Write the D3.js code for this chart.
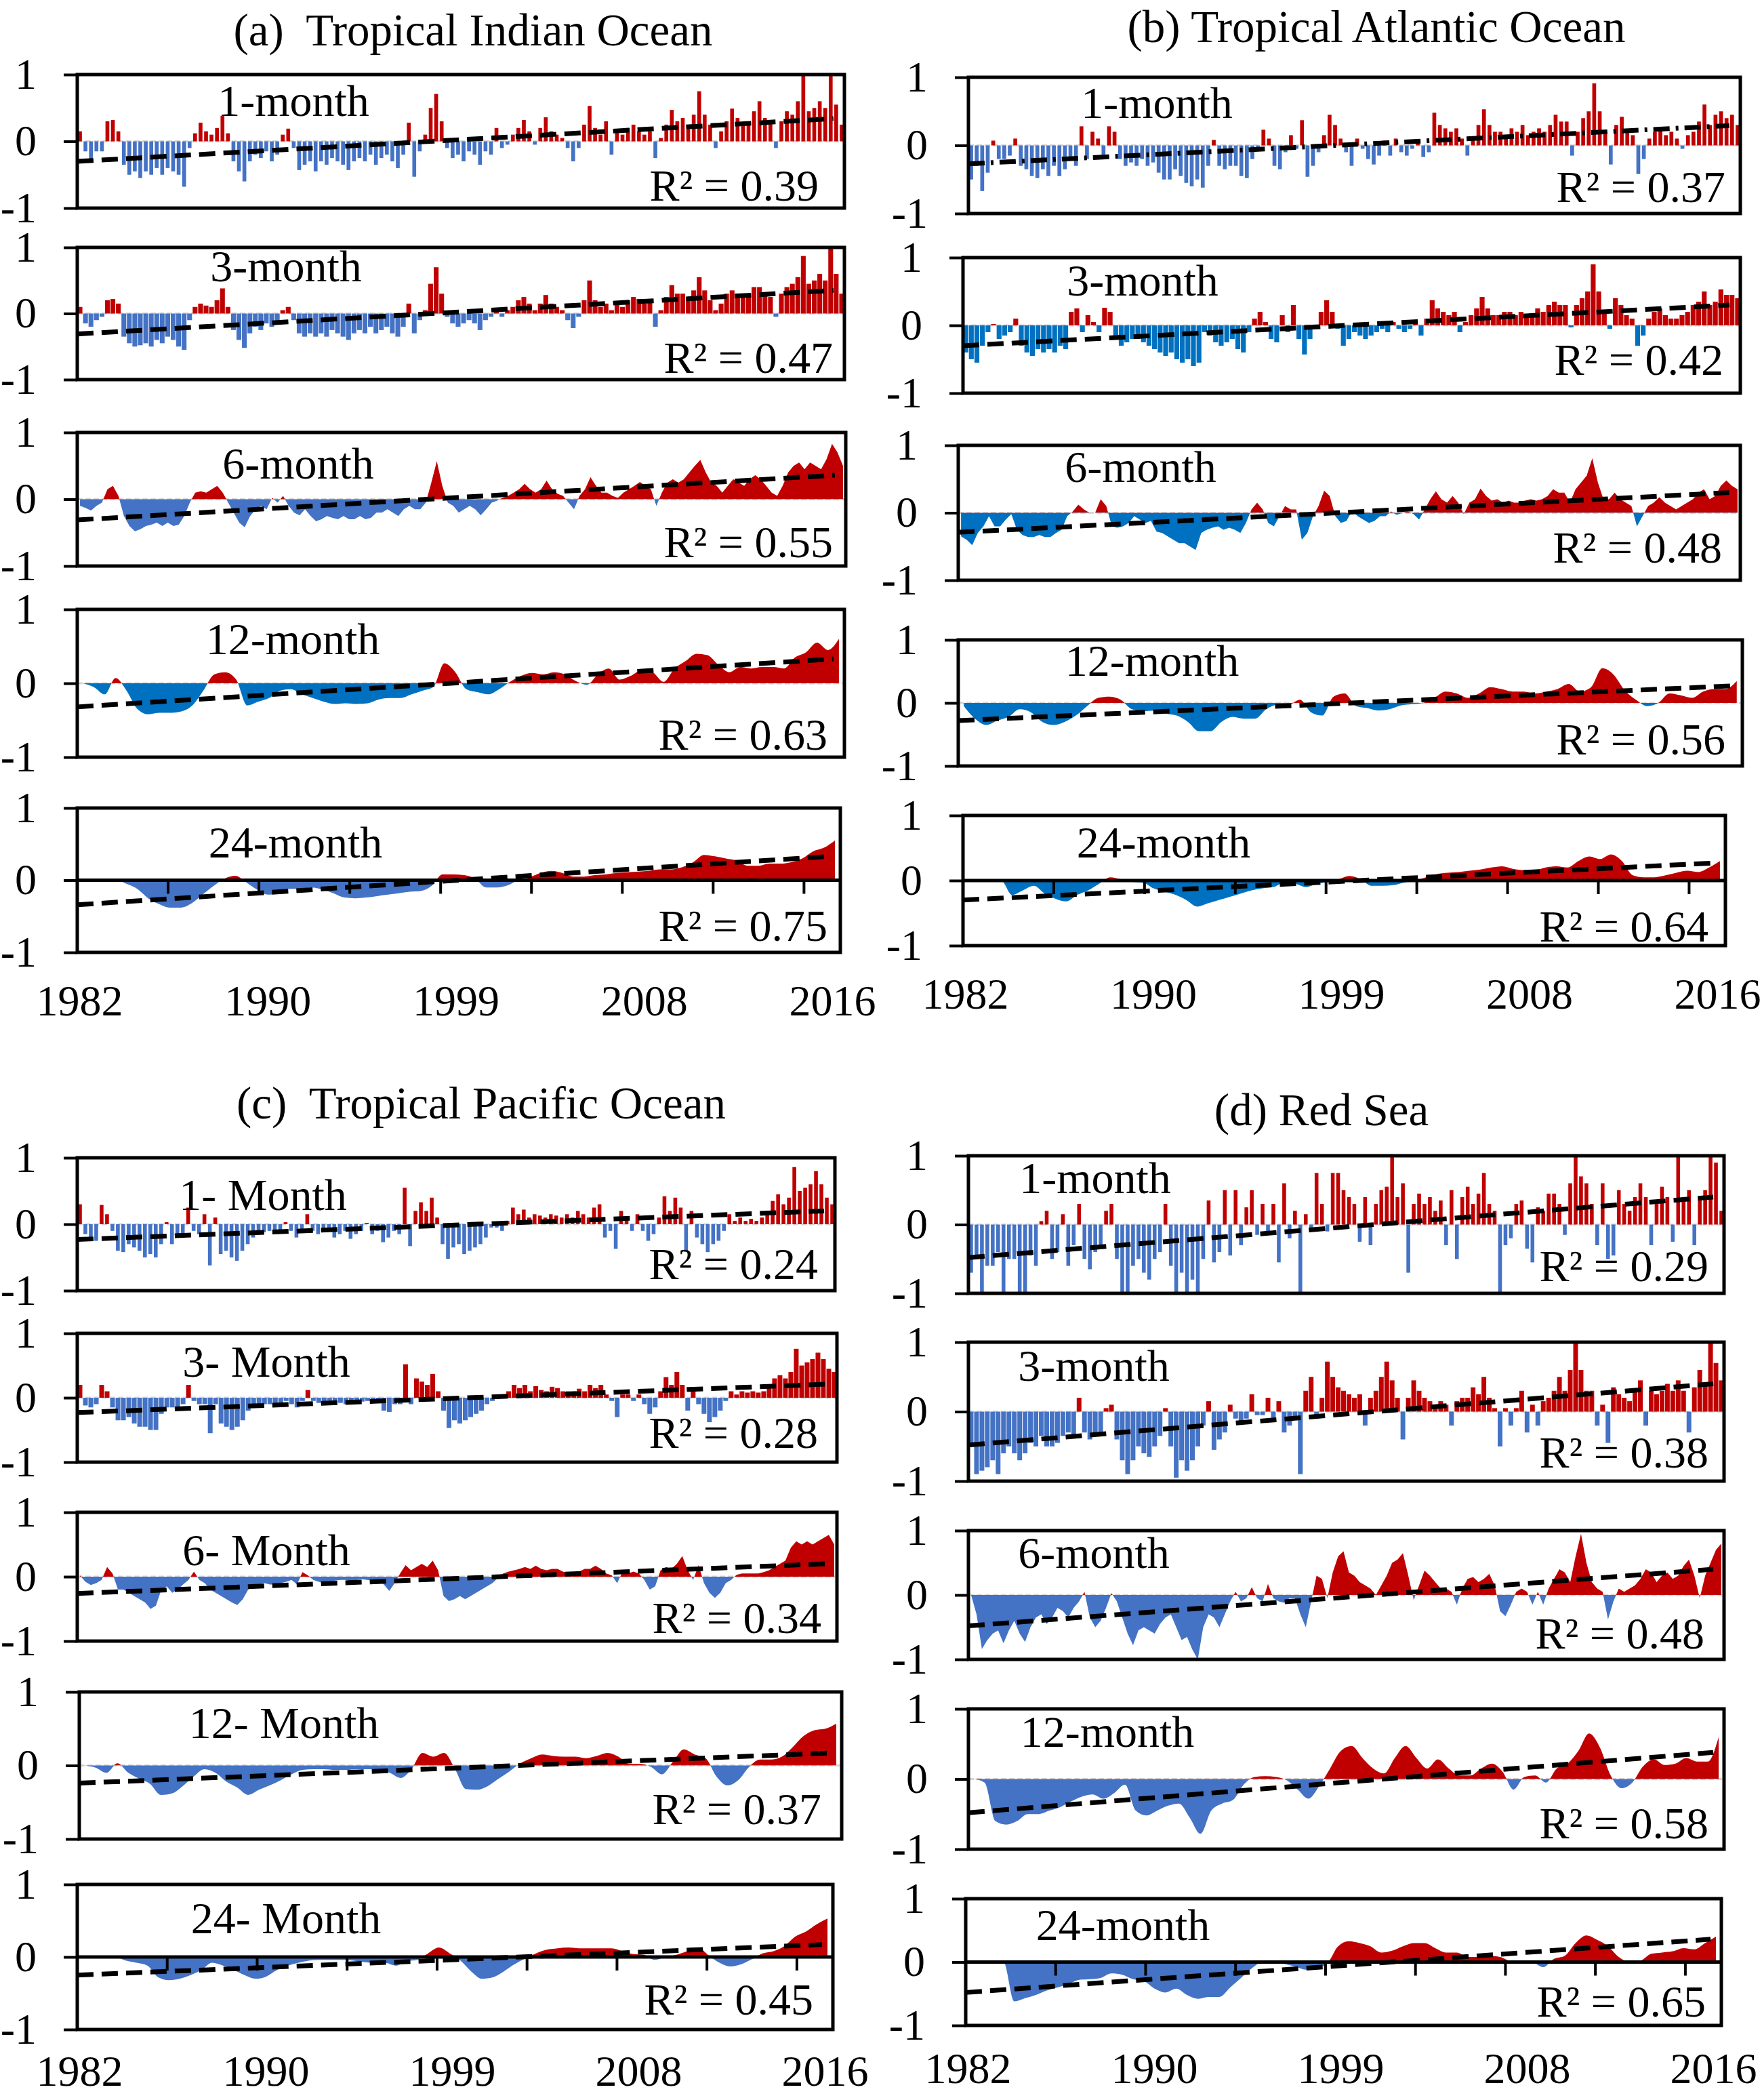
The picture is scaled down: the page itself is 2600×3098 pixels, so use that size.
<!DOCTYPE html>
<html>
<head>
<meta charset="utf-8">
<script src="https://cdn.jsdelivr.net/npm/d3@7"></script>
<style>
  body { margin: 0; background: #fff; }
  svg text { font-family: "Liberation Serif", "Times New Roman", serif; fill: #000; }
</style>
</head>
<body>
<svg id="chart" width="2600" height="3098"></svg>
<script>
// time span of every panel, and the labels under the bottom panels
var startYear = 1982, endYear = 2017, trendEnd = 2016.5;
var tickYears = [1982, 1990, 1999, 2008, 2016];
var scaleNames = ["1-month", "3-month", "6-month", "12-month", "24-month"];
var pacificNames = ["1- Month", "3- Month", "6- Month", "12- Month", "24- Month"];

// ---- (a) Tropical Indian Ocean ----
var indian1 = [
  0.15,-0.15,-0.3,-0.15, -0.15,0.3,0.32,0.15, -0.35,-0.5,-0.45,-0.55, -0.45,-0.5,-0.4,-0.5,
  -0.4,-0.45,-0.5,-0.68, -0.1,0.12,0.28,0.15, 0.1,0.2,0.38,0.12, -0.3,-0.45,-0.6,-0.3,
  -0.2,-0.25,-0.15,-0.3, -0.2,0.1,0.19,-0.1, -0.43,-0.35,-0.3,-0.45, -0.3,-0.35,-0.25,-0.3,
  -0.35,-0.43,-0.3,-0.25, -0.3,-0.2,-0.35,-0.25, -0.2,-0.3,-0.4,-0.2, 0.28,-0.53,-0.15,0.1,
  0.5,0.71,0.3,-0.1, -0.25,-0.2,-0.3,-0.15, -0.2,-0.35,-0.15,-0.2, 0.2,-0.1,-0.05,0.1,
  0.2,0.32,0.15,-0.05, 0.2,0.36,0.15,0.1, 0.05,-0.1,-0.3,-0.1, 0.25,0.53,0.2,0.1,
  0.3,-0.2,0.15,0.1, 0.2,0.25,0.15,0.1, 0.15,-0.25,0.05,0.25, 0.47,0.3,0.35,0.25,
  0.4,0.75,0.4,0.25, -0.1,0.15,0.3,0.49, 0.35,0.25,0.3,0.45, 0.6,0.35,0.3,-0.1,
  0.3,0.45,0.4,0.6, 0.98,0.45,0.5,0.6, 0.5,1.0,0.55,0.25
];
var indian3 = [
  0.1,-0.15,-0.2,-0.1, -0.05,0.2,0.22,0.15, -0.35,-0.45,-0.5,-0.48, -0.45,-0.5,-0.4,-0.45,
  -0.35,-0.4,-0.5,-0.55, -0.1,0.1,0.15,0.12, 0.1,0.2,0.38,0.1, -0.25,-0.4,-0.52,-0.3,
  -0.2,-0.25,-0.15,-0.2, -0.15,0.05,0.1,-0.1, -0.3,-0.35,-0.3,-0.35, -0.3,-0.35,-0.25,-0.3,
  -0.35,-0.4,-0.3,-0.25, -0.3,-0.2,-0.3,-0.25, -0.2,-0.3,-0.35,-0.2, 0.15,-0.3,-0.1,0.05,
  0.45,0.7,0.3,-0.05, -0.15,-0.2,-0.15,-0.1, -0.15,-0.25,-0.1,-0.05, 0.05,-0.05,0.05,0.1,
  0.2,0.25,0.15,0.05, 0.15,0.28,0.15,0.1, 0.05,-0.1,-0.22,-0.05, 0.2,0.5,0.2,0.1,
  0.15,0.05,0.15,0.1, 0.2,0.25,0.22,0.15, 0.2,-0.2,0.05,0.25, 0.43,0.3,0.3,0.25,
  0.35,0.55,0.35,0.2, 0.05,0.15,0.3,0.35, 0.3,0.25,0.3,0.4, 0.4,0.3,0.25,-0.05,
  0.3,0.4,0.45,0.55, 0.87,0.45,0.5,0.6, 0.5,1.0,0.6,0.3
];
var indian6 = [
  -0.1,-0.13,-0.17,-0.1, -0.05,0.15,0.2,0.05, -0.25,-0.4,-0.48,-0.45, -0.4,-0.38,-0.35,-0.4,
  -0.35,-0.4,-0.38,-0.25, -0.05,0.1,0.12,0.1, 0.15,0.2,0.1,-0.05, -0.2,-0.35,-0.42,-0.25,
  -0.15,-0.1,-0.15,0.02, -0.05,0.05,-0.1,-0.2, -0.24,-0.15,-0.25,-0.33, -0.3,-0.25,-0.28,-0.3,
  -0.25,-0.3,-0.3,-0.25, -0.3,-0.28,-0.2,-0.2, -0.15,-0.2,-0.25,-0.15, -0.1,-0.15,-0.15,-0.05,
  0.25,0.57,0.2,-0.05, -0.1,-0.2,-0.15,-0.1, -0.15,-0.24,-0.15,-0.05, -0.02,0.02,0.05,0.1,
  0.15,0.23,0.15,0.1, 0.15,0.28,0.15,0.08, 0.05,-0.05,-0.15,0.05, 0.15,0.33,0.2,0.1,
  0.1,0.05,0.02,0.1, 0.15,0.2,0.26,0.2, 0.15,-0.1,0.1,0.25, 0.3,0.25,0.3,0.4,
  0.5,0.59,0.4,0.25, 0.2,0.1,0.2,0.3, 0.25,0.2,0.3,0.36, 0.3,0.2,0.1,0.05,
  0.2,0.4,0.5,0.55, 0.45,0.55,0.5,0.45, 0.6,0.83,0.7,0.5
];
var indian12 = [
  0,-0.05,-0.15,0.07,-0.1,-0.35,-0.42,-0.4,-0.4,-0.38,
  -0.3,-0.1,0.12,0.15,0.05,-0.3,-0.25,-0.2,-0.1,-0.08,
  -0.15,-0.2,-0.25,-0.28,-0.27,-0.28,-0.27,-0.22,-0.2,-0.2,
  -0.15,-0.1,-0.05,0.27,0.15,-0.08,-0.12,-0.15,-0.08,0.02,
  0.1,0.14,0.12,0.15,0.12,0.03,-0.02,0.12,0.2,0.05,
  0.1,0.18,0.15,0.02,0.2,0.3,0.4,0.38,0.25,0.15,
  0.22,0.2,0.22,0.22,0.2,0.35,0.42,0.55,0.45,0.6
];
var indian24 = [
  0,0,0,0,-0.05,-0.12,-0.25,-0.33,-0.38,-0.38,
  -0.32,-0.2,-0.08,0.02,0.06,-0.03,-0.13,-0.2,-0.18,-0.12,
  -0.12,-0.1,-0.13,-0.18,-0.24,-0.25,-0.24,-0.22,-0.2,-0.18,
  -0.16,-0.15,-0.08,0.08,0.08,0.07,0.02,-0.1,-0.1,-0.07,
  0,0.04,0.1,0.13,0.1,0.05,0.05,0.07,0.08,0.1,
  0.11,0.12,0.13,0.15,0.15,0.18,0.25,0.35,0.33,0.3,
  0.27,0.2,0.2,0.23,0.23,0.25,0.3,0.4,0.45,0.55
];
var indianTrend = [[-0.30, 0.34], [-0.31, 0.35], [-0.31, 0.36], [-0.32, 0.33], [-0.34, 0.33]];
var indianR2 = [0.39, 0.47, 0.55, 0.63, 0.75];

// ---- (b) Tropical Atlantic Ocean ----
var atlantic1 = [
  -0.5,-0.3,-0.67,-0.4, 0.07,-0.2,-0.2,-0.15, 0.1,-0.3,-0.35,-0.45, -0.48,-0.35,-0.45,-0.3,
  -0.45,-0.35,-0.2,-0.3, 0.28,-0.2,0.2,0.1, -0.15,0.28,0.2,-0.2, -0.3,-0.25,-0.3,-0.2,
  -0.3,-0.25,-0.4,-0.5, -0.5,-0.35,-0.45,-0.55, -0.6,-0.5,-0.62,-0.3, 0.08,-0.3,-0.35,-0.3,
  -0.3,-0.45,-0.48,-0.2, -0.05,0.23,0.1,-0.3, -0.35,-0.1,0.15,-0.05, 0.37,-0.46,-0.3,-0.1,
  0.15,0.45,0.3,0.1, -0.1,-0.3,0.1,-0.05, -0.2,-0.28,-0.15,0.07, -0.15,0.1,-0.1,-0.15,
  -0.05,0.05,-0.17,-0.1, 0.48,0.3,0.25,0.2, 0.25,0.1,-0.15,0.1, 0.3,0.53,0.3,0.2,
  0.2,0.15,0.25,0.2, 0.3,0.15,0.2,0.25, 0.2,0.3,0.45,0.35, 0.35,-0.15,0.2,0.4,
  0.5,0.91,0.5,0.2, -0.28,0.3,0.42,0.2, 0.15,-0.42,-0.2,0.1, 0.2,0.25,0.15,0.2,
  0.1,-0.05,0.15,0.2, 0.35,0.6,0.3,0.45, 0.5,0.4,0.45,0.3
];
var atlantic3 = [
  -0.4,-0.5,-0.55,-0.3, -0.1,0.02,-0.2,-0.15, -0.1,0.1,-0.3,-0.4, -0.45,-0.35,-0.4,-0.35,
  -0.4,-0.3,-0.35,0.2, 0.25,-0.1,0.15,0.05, -0.1,0.26,0.2,-0.2, -0.3,-0.25,-0.2,-0.2,
  -0.25,-0.3,-0.35,-0.4, -0.45,-0.4,-0.5,-0.55, -0.5,-0.6,-0.55,-0.1, -0.15,-0.25,-0.3,-0.25,
  -0.2,-0.35,-0.4,-0.1, 0.1,0.2,0.05,-0.2, -0.25,0.15,-0.1,0.3, -0.2,-0.43,-0.2,-0.05,
  0.2,0.37,0.2,-0.05, -0.3,-0.2,-0.1,-0.15, -0.2,-0.15,-0.1,-0.05, -0.1,0.05,-0.05,-0.1,
  -0.05,0.02,-0.15,0.1, 0.37,0.25,0.2,0.15, 0.2,-0.1,0.05,0.15, 0.25,0.42,0.25,0.15,
  0.15,0.2,0.2,0.15, 0.2,0.15,0.15,0.25, 0.2,0.3,0.35,0.3, 0.3,-0.03,0.3,0.4,
  0.5,0.9,0.5,0.2, -0.05,0.4,0.3,0.15, 0.1,-0.3,-0.15,0.1, 0.2,0.25,0.15,0.1,
  0.1,0.15,0.2,0.3, 0.35,0.5,0.3,0.35, 0.53,0.45,0.45,0.4
];
var atlantic6 = [
  -0.35,-0.4,-0.48,-0.3, -0.2,-0.05,-0.2,-0.2, -0.1,-0.02,-0.25,-0.33, -0.36,-0.36,-0.33,-0.36,
  -0.36,-0.3,-0.25,-0.05, 0.02,0.12,0.05,0, 0,0.2,0.1,-0.2, -0.22,-0.2,-0.15,-0.05,
  -0.1,-0.15,-0.12,-0.28, -0.3,-0.35,-0.4,-0.45, -0.45,-0.5,-0.55,-0.3, -0.25,-0.22,-0.2,-0.25,
  -0.22,-0.25,-0.3,-0.15, 0.05,0.15,0.05,-0.15, -0.2,-0.05,0.1,0.05, 0.05,-0.4,-0.3,-0.05,
  0.1,0.33,0.25,-0.05, -0.15,-0.12,0.03,-0.05, -0.1,-0.15,-0.12,-0.05, -0.05,0.02,-0.03,0,
  0.02,-0.02,-0.1,0.05, 0.2,0.32,0.2,0.15, 0.25,0.15,-0.02,0.15, 0.2,0.36,0.25,0.18,
  0.2,0.15,0.18,0.15, 0.15,0.18,0.2,0.18, 0.2,0.25,0.35,0.3, 0.3,0.15,0.35,0.45,
  0.55,0.81,0.45,0.2, 0.2,0.3,0.2,0.15, 0.1,-0.2,-0.05,0.1, 0.15,0.23,0.15,0.1,
  0.05,0.1,0.15,0.2, 0.3,0.35,0.2,0.25, 0.4,0.48,0.4,0.35
];
var atlantic12 = [
  -0.05,-0.25,-0.35,-0.28,-0.22,-0.1,-0.15,-0.3,-0.35,-0.3,
  -0.2,-0.05,0.08,0.1,0.05,-0.1,-0.13,-0.12,-0.17,-0.2,
  -0.3,-0.45,-0.45,-0.3,-0.22,-0.25,-0.25,-0.1,-0.03,-0.03,
  0.05,-0.15,-0.2,0.1,0.15,-0.05,-0.08,-0.12,-0.1,-0.04,
  -0.02,0,0.08,0.18,0.15,0.08,0.15,0.25,0.22,0.18,
  0.18,0.15,0.18,0.22,0.3,0.18,0.25,0.55,0.45,0.2,
  0.05,-0.05,0,0.15,0.12,0.08,0.18,0.22,0.22,0.35
];
var atlantic24 = [
  0,0,0,0,-0.22,-0.15,-0.08,-0.2,-0.28,-0.32,
  -0.22,-0.15,-0.05,0.05,0.02,-0.02,-0.03,-0.12,-0.17,-0.22,
  -0.3,-0.4,-0.35,-0.3,-0.25,-0.2,-0.15,-0.12,-0.1,-0.03,
  -0.05,-0.1,-0.05,-0.02,0.02,0.07,0.02,-0.08,-0.08,-0.07,
  -0.03,0,0.05,0.1,0.12,0.13,0.15,0.17,0.2,0.22,
  0.18,0.16,0.16,0.2,0.22,0.2,0.3,0.37,0.33,0.4,
  0.3,0.08,0.05,0.05,0.08,0.12,0.15,0.13,0.2,0.3
];
var atlanticTrend = [[-0.27, 0.29], [-0.30, 0.30], [-0.29, 0.30], [-0.28, 0.27], [-0.30, 0.27]];
var atlanticR2 = [0.37, 0.42, 0.48, 0.56, 0.64];

// ---- (c) Tropical Pacific Ocean ----
var pacific1 = [
  0.3,-0.15,-0.2,-0.25, 0.29,0.15,-0.1,-0.4, -0.42,-0.3,-0.35,-0.4, -0.5,-0.45,-0.5,-0.3,
  0.03,-0.3,-0.2,-0.15, 0.25,-0.1,-0.15,0.15, -0.62,0.1,-0.45,-0.4, -0.5,-0.55,-0.4,-0.3,
  -0.2,-0.15,-0.12,-0.1, -0.1,-0.1,0.03,-0.1, -0.2,-0.1,0.15,-0.1, -0.15,-0.1,-0.05,-0.2,
  -0.15,-0.1,-0.22,-0.15, -0.1,0.02,-0.15,-0.1, -0.27,-0.2,-0.1,-0.15, 0.55,-0.33,0.2,0.33,
  0.2,0.4,0.1,-0.3, -0.52,-0.35,-0.3,-0.45, -0.4,-0.35,-0.3,-0.2, -0.05,-0.05,-0.1,0.05,
  0.25,0.15,0.22,0.1, 0.15,0.13,0.1,0.15, 0.13,0.1,0.15,0.1, 0.2,0.15,0.1,0.25,
  0.3,-0.2,-0.1,-0.37, 0.2,0.1,-0.1,0.15, -0.1,-0.25,-0.15,0.1, 0.42,0.2,0.4,0.25,
  -0.42,0.2,-0.2,-0.3, -0.42,-0.3,-0.25,-0.1, 0.15,0.05,0.1,0.05, 0.08,0.05,0.1,0.15,
  0.35,0.45,0.3,0.4, 0.86,0.5,0.55,0.6, 0.8,0.6,0.4,0.3
];
var pacific3 = [
  0.2,-0.12,-0.15,-0.1, 0.2,0.1,-0.15,-0.35, -0.35,-0.3,-0.4,-0.45, -0.45,-0.5,-0.5,-0.25,
  -0.15,-0.15,-0.15,-0.1, 0.2,-0.05,-0.1,-0.1, -0.55,-0.1,-0.4,-0.45, -0.5,-0.45,-0.35,-0.2,
  -0.15,-0.12,-0.1,-0.1, -0.1,-0.1,-0.05,-0.1, -0.15,-0.05,0.12,-0.05, -0.08,-0.1,-0.05,-0.08,
  -0.08,-0.1,-0.1,-0.08, -0.06,-0.05,-0.08,-0.05, -0.2,-0.22,-0.1,-0.1, 0.52,-0.1,0.3,0.25,
  0.2,0.37,0.1,-0.2, -0.47,-0.35,-0.4,-0.35, -0.3,-0.25,-0.2,-0.1, -0.05,-0.02,0.05,0.1,
  0.2,0.15,0.2,0.1, 0.18,0.12,0.1,0.17, 0.15,0.1,0.1,0.1, 0.14,0.1,0.2,0.15,
  0.2,0.05,-0.05,-0.3, 0.05,0.05,-0.05,0.05, -0.1,-0.25,-0.15,0.1, 0.32,0.2,0.4,0.2,
  -0.2,0.15,-0.1,-0.25, -0.38,-0.3,-0.2,-0.05, 0.1,0.05,0.1,0.08, 0.1,0.08,0.1,0.15,
  0.3,0.35,0.3,0.4, 0.76,0.5,0.55,0.6, 0.7,0.6,0.45,0.4
];
var pacific6 = [
  0.02,-0.08,-0.13,-0.1, -0.05,0.15,0.05,-0.2, -0.2,-0.25,-0.3,-0.35, -0.4,-0.5,-0.45,-0.2,
  -0.15,-0.25,-0.2,-0.12, -0.05,0.08,-0.05,-0.1, -0.2,-0.25,-0.3,-0.35, -0.4,-0.44,-0.35,-0.2,
  -0.15,-0.12,-0.1,-0.12, -0.12,-0.1,-0.08,-0.05, -0.12,0.07,0.02,-0.05, -0.08,-0.1,-0.08,-0.06,
  -0.05,-0.05,-0.08,-0.05, -0.04,-0.05,-0.06,-0.05, -0.12,-0.22,-0.1,0.05, 0.18,0.1,0.15,0.2,
  0.15,0.25,0.1,-0.3, -0.38,-0.35,-0.3,-0.35, -0.3,-0.25,-0.2,-0.15, -0.1,-0.02,0.05,0.08,
  0.1,0.12,0.15,0.12, 0.17,0.12,0.1,0.12, 0.12,0.08,0.05,0.05, 0.08,0.12,0.12,0.17,
  0.12,0.05,0.02,-0.1, 0.08,0.05,0.08,0.05, -0.05,-0.2,-0.15,0.1, 0.15,0.12,0.2,0.32,
  0.1,-0.05,0.18,-0.1, -0.25,-0.33,-0.25,-0.1, -0.05,0.03,0.05,0.05, 0.05,0.05,0.07,0.1,
  0.15,0.2,0.25,0.45, 0.55,0.5,0.55,0.5, 0.55,0.6,0.65,0.5
];
var pacific12 = [
  0,-0.03,-0.1,0.03,-0.1,-0.18,-0.25,-0.4,-0.38,-0.28,
  -0.15,-0.05,-0.1,-0.22,-0.3,-0.4,-0.33,-0.27,-0.2,-0.12,
  -0.06,-0.05,-0.05,-0.06,-0.06,-0.05,-0.05,-0.05,-0.1,-0.17,
  -0.05,0.17,0.12,0.17,-0.05,-0.32,-0.33,-0.28,-0.18,-0.08,
  0.03,0.1,0.15,0.13,0.12,0.12,0.1,0.13,0.17,0.12,
  0.02,0.02,-0.02,-0.12,0.05,0.22,0.15,0.1,-0.15,-0.27,
  -0.2,-0.02,0.08,0.08,0.12,0.25,0.4,0.48,0.5,0.57
];
var pacific24 = [
  0,0,0,0,-0.05,-0.08,-0.12,-0.28,-0.32,-0.3,
  -0.25,-0.18,-0.08,-0.12,-0.18,-0.25,-0.3,-0.27,-0.18,-0.12,
  -0.08,-0.05,-0.04,-0.04,-0.04,-0.05,-0.07,-0.08,-0.08,-0.12,
  -0.06,-0.04,0.05,0.13,0.05,-0.05,-0.2,-0.3,-0.28,-0.2,
  -0.1,-0.02,0.05,0.1,0.12,0.13,0.12,0.12,0.12,0.12,
  0.08,0.04,0.03,-0.04,0,0.03,0.08,0.13,0.02,-0.08,
  -0.13,-0.1,-0.03,0.05,0.08,0.15,0.28,0.35,0.45,0.53
];
var pacificTrend = [[-0.23, 0.20], [-0.23, 0.21], [-0.26, 0.20], [-0.24, 0.17], [-0.25, 0.17]];
var pacificR2 = [0.24, 0.28, 0.34, 0.37, 0.45];

// ---- (d) Red Sea ----
var redsea1 = [
  -0.7,-0.5,-1.0,-0.6, -0.6,-0.4,-1.0,-0.5, -0.5,-1.0,-1.0,-0.45, -0.6,0.05,0.2,-0.5,
  -0.4,0.15,-0.6,-0.3, 0.3,-0.5,-0.65,-0.4, -0.3,0.2,0.3,-0.5, -1.0,-1.0,-0.6,-0.5,
  -0.7,-0.8,-0.5,-0.4, 0.3,-0.6,-1.0,-0.7, -1.0,-0.8,-1.0,-0.5, 0.35,-0.55,-0.4,0.5,
  -0.45,0.5,-0.3,0.25, 0.5,-0.15,0.3,-0.1, 0.3,-0.55,0.6,-0.2, 0.2,-1.0,0.15,-0.1,
  0.75,0.3,-0.1,0.75, 0.75,0.5,0.4,0.3, -0.25,0.4,-0.3,0.3, 0.5,0.55,1.0,0.4,
  0.6,-0.7,0.3,0.45, 0.3,0.4,0.2,0.35, -0.3,0.5,-0.5,0.4, 0.55,0.3,0.45,0.75,
  0.3,0.2,-1.0,-0.3, -0.2,0.3,0.35,-0.35, -0.55,0.25,0.2,0.45, 0.45,0.3,-0.15,0.6,
  1.0,0.7,0.6,0.3, -0.3,0.6,-0.5,-0.45, 0.5,0.3,0.2,0.4, 0.6,0.4,-0.3,0.3,
  0.55,0.4,-0.25,1.0, 0.4,0.5,-0.3,0.4, 0.5,1.0,0.9,0.2
];
var redsea3 = [
  -0.5,-0.9,-0.85,-0.8, -0.7,-0.9,-0.6,-0.5, -0.6,-0.7,-0.6,-0.45, -0.5,-0.35,-0.5,-0.5,
  -0.45,-0.35,-0.3,-0.35, 0.2,-0.3,-0.4,-0.35, -0.3,0.05,0.1,-0.4, -0.7,-0.9,-0.7,-0.5,
  -0.6,-0.65,-0.5,-0.35, 0.05,-0.5,-0.95,-0.7, -0.85,-0.7,-0.5,-0.2, 0.15,-0.55,-0.4,-0.3,
  0.1,-0.1,-0.15,-0.1, 0.25,-0.05,-0.05,0.2, -0.1,0.15,-0.3,-0.2, -0.1,-0.9,0.3,0.5,
  -0.1,0.2,0.72,0.5, 0.35,0.3,0.25,0.2, 0.25,-0.2,0.2,0.3, 0.5,0.72,0.45,0.2,
  -0.4,0.2,0.45,0.3, 0.2,0.15,0.1,0.15, 0.1,-0.2,0.15,0.2, 0.2,0.35,0.25,0.5,
  0.2,0.05,-0.5,0.05, -0.2,0.05,0.3,-0.3, 0.1,-0.2,0.15,0.2, 0.3,0.5,0.3,0.6,
  1.0,0.6,0.3,0.3, -0.2,0.1,-0.45,0.35, 0.25,0.2,0.15,0.3, 0.45,-0.2,0.3,0.25,
  0.3,0.4,0.3,0.45, 0.3,-0.3,0.35,0.6, 0.4,1.0,0.7,0.45
];
var redsea6 = [
  0,-0.3,-0.84,-0.7, -0.6,-0.55,-0.75,-0.55, -0.4,-0.6,-0.73,-0.5, -0.35,-0.3,-0.45,-0.35,
  -0.2,-0.25,-0.35,-0.2, -0.1,0.05,-0.35,-0.5, -0.4,-0.2,0.03,-0.1, -0.35,-0.6,-0.78,-0.55,
  -0.5,-0.55,-0.6,-0.45, -0.35,-0.3,-0.5,-0.7, -0.65,-0.85,-1.0,-0.5, -0.3,-0.35,-0.5,-0.3,
  -0.1,0.05,-0.1,-0.05, 0.12,-0.05,-0.1,0.17, -0.05,-0.1,-0.12,-0.05, -0.05,-0.3,-0.5,-0.1,
  0.3,0.25,-0.05,0.35, 0.6,0.68,0.35,0.3, 0.2,0.15,0.1,0, 0.15,0.3,0.5,0.55,
  0.65,0.3,-0.08,0.15, 0.38,0.3,0.2,0.1, 0.1,0.05,-0.15,0.1, 0.25,0.28,0.2,0.25,
  0.33,0.15,-0.25,-0.33, -0.15,0.05,0.1,0.05, -0.15,0.05,-0.15,0.1, 0.25,0.4,0.35,0.2,
  0.6,0.95,0.5,0.2, 0.1,0.05,-0.38,-0.1, 0.1,0.05,0.1,0.15, 0.25,0.4,0.35,0.2,
  0.3,0.35,0.25,0.3, 0.45,0.55,0.3,-0.05, 0.3,0.5,0.7,0.8
];
var redsea12 = [
  0,-0.05,-0.6,-0.65,-0.6,-0.5,-0.5,-0.45,-0.4,-0.32,
  -0.25,-0.22,-0.28,-0.2,-0.08,-0.45,-0.52,-0.45,-0.38,-0.35,
  -0.55,-0.78,-0.45,-0.35,-0.3,-0.08,0.03,0.04,0.03,-0.02,
  -0.15,-0.28,-0.1,0.15,0.4,0.47,0.3,0.15,0.08,0.3,
  0.47,0.3,0.15,0.28,0.15,0.05,0.05,0.15,0.22,0.1,
  -0.15,0.03,0.05,-0.05,0.15,0.22,0.4,0.65,0.45,0.05,
  -0.13,-0.05,0.18,0.28,0.2,0.22,0.3,0.25,0.25,0.6
];
var redsea24 = [
  0,0,0,0,-0.62,-0.57,-0.52,-0.45,-0.4,-0.35,
  -0.28,-0.27,-0.25,-0.18,-0.2,-0.27,-0.3,-0.42,-0.48,-0.42,
  -0.52,-0.58,-0.55,-0.55,-0.4,-0.25,-0.1,0,0,-0.03,
  -0.07,-0.12,-0.1,-0.02,0.25,0.33,0.3,0.25,0.15,0.18,
  0.25,0.3,0.3,0.22,0.15,0.15,0.08,0.08,0.1,0.08,
  0.02,0.02,0,-0.08,0.05,0.1,0.3,0.42,0.35,0.25,
  0.08,0,0.02,0.13,0.15,0.17,0.22,0.2,0.3,0.4
];
var redseaTrend = [[-0.48, 0.40], [-0.48, 0.40], [-0.48, 0.40], [-0.48, 0.38], [-0.48, 0.36]];
var redseaR2 = [0.29, 0.38, 0.48, 0.58, 0.65];

( function () {

    window.addEventListener('load', init);

    var red = '#C00000', blueA = '#4472C4', blueB = '#0070C0';
    var serif = '"Liberation Serif", "Times New Roman", serif';

    // page layout: frames are [left, right, top, bottom]
    var oceans = [
        { title: '(a)  Tropical Indian Ocean', tx: 698, ty: 67, yearPad: 48,
          series: [indian1, indian3, indian6, indian12, indian24],
          trend: indianTrend, r2: indianR2, names: scaleNames,
          blues: [blueA, blueA, blueA, blueB, blueA],
          frames: [[114, 1246, 110, 307], [114, 1246, 365, 560], [114, 1248, 638, 835], [114, 1246, 899, 1117], [114, 1240, 1192, 1405]],
          labels: [[433, 171], [422, 415], [440, 706], [432, 965], [436, 1265]],
          r2pos: [[1208, 296], [1229, 550], [1229, 822], [1221, 1106], [1221, 1388]] },
        { title: '(b) Tropical Atlantic Ocean', tx: 2031, ty: 62, yearPad: 48,
          series: [atlantic1, atlantic3, atlantic6, atlantic12, atlantic24],
          trend: atlanticTrend, r2: atlanticR2, names: scaleNames,
          blues: [blueA, blueB, blueB, blueB, blueB], dashDot: true,
          frames: [[1429, 2568, 114, 315], [1421, 2568, 380, 580], [1414, 2568, 657, 856], [1414, 2571, 944, 1130], [1421, 2546, 1203, 1395]],
          labels: [[1707, 174], [1686, 436], [1683, 711], [1700, 997], [1717, 1265]],
          r2pos: [[2546, 298], [2543, 553], [2541, 830], [2546, 1113], [2521, 1389]] },
        { title: '(c)  Tropical Pacific Ocean', tx: 710, ty: 1650, yearPad: 38,
          series: [pacific1, pacific3, pacific6, pacific12, pacific24],
          trend: pacificTrend, r2: pacificR2, names: pacificNames,
          blues: [blueA, blueA, blueA, blueA, blueA],
          frames: [[114, 1232, 1708, 1904], [114, 1235, 1967, 2157], [114, 1235, 2231, 2421], [117, 1242, 2496, 2713], [114, 1229, 2780, 2994]],
          labels: [[388, 1785], [393, 2031], [393, 2309], [419, 2564], [422, 2852]],
          r2pos: [[1207, 1887], [1207, 2136], [1212, 2409], [1212, 2691], [1200, 2972]] },
        { title: '(d) Red Sea', tx: 1950, ty: 1660, yearPad: 40,
          series: [redsea1, redsea3, redsea6, redsea12, redsea24],
          trend: redseaTrend, r2: redseaR2, names: scaleNames,
          blues: [blueA, blueA, blueA, blueA, blueA],
          frames: [[1429, 2544, 1705, 1908], [1429, 2544, 1980, 2185], [1429, 2544, 2258, 2448], [1429, 2544, 2521, 2728], [1425, 2540, 2801, 2988]],
          labels: [[1616, 1760], [1614, 2037], [1614, 2313], [1634, 2577], [1657, 2862]],
          r2pos: [[2521, 1890], [2521, 2165], [2515, 2432], [2521, 2712], [2517, 2975]] }
    ];

    function init() {
        var svg = d3.select('#chart');
        svg.append('rect').attr('width', 2600).attr('height', 3098).attr('fill', '#fff');

        oceans.forEach(function (ocean, oi) {
            svg.append('text')
                .attr('x', ocean.tx)
                .attr('y', ocean.ty)
                .attr('text-anchor', 'middle')
                .attr('font-size', 67)
                .style('white-space', 'pre')
                .text(ocean.title);

            for (var p = 0; p < 5; p++) {
                drawPanel(svg, ocean, oi, p);
            }

            // year labels under the 24-month panel
            var f = ocean.frames[4];
            var xLab = d3.scalePoint().domain(tickYears).range([f[0] + 3, f[1] - 12]);
            svg.append('g')
                .attr('transform', 'translate(0,' + f[3] + ')')
                .call(d3.axisBottom(xLab).tickSize(0).tickPadding(ocean.yearPad))
                .attr('font-family', serif)
                .attr('font-size', 64)
                .call(function (g) { g.select('.domain').remove(); });
        });
    }

    function drawPanel(svg, ocean, oi, p) {
        var f = ocean.frames[p];
        var vals = ocean.series[p];
        var blue = ocean.blues[p];
        var x = d3.scaleLinear().domain([startYear, endYear]).range([f[0], f[1]]);
        var y = d3.scaleLinear().domain([-1, 1]).range([f[3], f[2]]);
        var step = (endYear - startYear) / vals.length;
        var g = svg.append('g');
        var id = 'c' + oi + '_' + p;

        // faint zero line behind the data
        if (p < 4) {
            g.append('line')
                .attr('x1', f[0]).attr('x2', f[1])
                .attr('y1', y(0)).attr('y2', y(0))
                .attr('stroke', '#d6d6d6')
                .attr('stroke-width', 3)
                .attr('stroke-dasharray', '8,4');
        }

        if (p < 2) {
            // 1-month and 3-month: one bar per value
            var slot = x(startYear + step) - x(startYear);
            var w = p === 0 ? slot * 0.7 : slot - 1;
            g.selectAll('rect.bar')
                .data(vals)
                .enter()
                .append('rect')
                .attr('class', 'bar')
                .attr('x', function (d, i) { return x(startYear + i * step) + (slot - w) / 2; })
                .attr('width', w)
                .attr('y', function (d) { return y(Math.max(d, 0)); })
                .attr('height', function (d) { return Math.abs(y(d) - y(0)); })
                .attr('fill', function (d) { return d >= 0 ? red : blue; });
        } else {
            // smoother series: area split at zero into red and blue
            var defs = g.append('defs');
            defs.append('clipPath').attr('id', id + 'up')
                .append('rect').attr('x', f[0]).attr('y', f[2])
                .attr('width', f[1] - f[0]).attr('height', y(0) - f[2]);
            defs.append('clipPath').attr('id', id + 'dn')
                .append('rect').attr('x', f[0]).attr('y', y(0))
                .attr('width', f[1] - f[0]).attr('height', f[3] - y(0));

            var area = d3.area()
                .x(function (d, i) { return x(startYear + (i + 0.5) * step); })
                .y0(y(0))
                .y1(function (d) { return y(d); })
                .curve(p === 2 ? d3.curveLinear : d3.curveMonotoneX);

            g.append('path').datum(vals)
                .attr('d', area)
                .attr('fill', red)
                .attr('clip-path', 'url(#' + id + 'up)');
            g.append('path').datum(vals)
                .attr('d', area)
                .attr('fill', blue)
                .attr('clip-path', 'url(#' + id + 'dn)');
        }

        // 24-month panels carry a black zero axis with tick marks
        if (p === 4) {
            g.append('line')
                .attr('x1', f[0]).attr('x2', f[1])
                .attr('y1', y(0)).attr('y2', y(0))
                .attr('stroke', '#000')
                .attr('stroke-width', 5);
            var tickX = d3.scaleLinear().domain([0, 420]).range([f[0], f[1]]);
            g.selectAll('line.tk')
                .data(d3.range(50, 420, 50))
                .enter()
                .append('line')
                .attr('class', 'tk')
                .attr('x1', function (d) { return tickX(d); })
                .attr('x2', function (d) { return tickX(d); })
                .attr('y1', y(0))
                .attr('y2', y(0) + 20)
                .attr('stroke', '#000')
                .attr('stroke-width', 4);
        }

        // linear trend
        var tr = ocean.trend[p];
        g.append('path')
            .datum([[startYear, tr[0]], [trendEnd, tr[1]]])
            .attr('d', d3.line()
                .x(function (d) { return x(d[0]); })
                .y(function (d) { return y(d[1]); }))
            .attr('fill', 'none')
            .attr('stroke', '#000')
            .attr('stroke-width', 7)
            .attr('stroke-dasharray', (ocean.dashDot && p === 0) ? '24,9,4,9' : '24,12');

        // frame
        g.append('rect')
            .attr('x', f[0]).attr('y', f[2])
            .attr('width', f[1] - f[0]).attr('height', f[3] - f[2])
            .attr('fill', 'none')
            .attr('stroke', '#000')
            .attr('stroke-width', 5);

        // y axis
        g.append('g')
            .attr('transform', 'translate(' + f[0] + ',0)')
            .call(d3.axisLeft(y).tickValues([-1, 0, 1]).tickSize(20).tickPadding(40)
                .tickFormat(function (d) { return String(d); }))
            .attr('font-family', serif)
            .attr('font-size', 64)
            .call(function (a) {
                a.select('.domain').remove();
                a.selectAll('line').attr('stroke-width', 4);
            });

        // timescale name and R squared
        g.append('text')
            .attr('x', ocean.labels[p][0])
            .attr('y', ocean.labels[p][1])
            .attr('text-anchor', 'middle')
            .attr('font-size', 66)
            .text(ocean.names[p]);

        g.append('text')
            .attr('x', ocean.r2pos[p][0])
            .attr('y', ocean.r2pos[p][1])
            .attr('text-anchor', 'end')
            .attr('font-size', 66)
            .text('R\u00b2 = ' + d3.format('.2f')(ocean.r2[p]));
    }
})();
</script>
</body>
</html>
